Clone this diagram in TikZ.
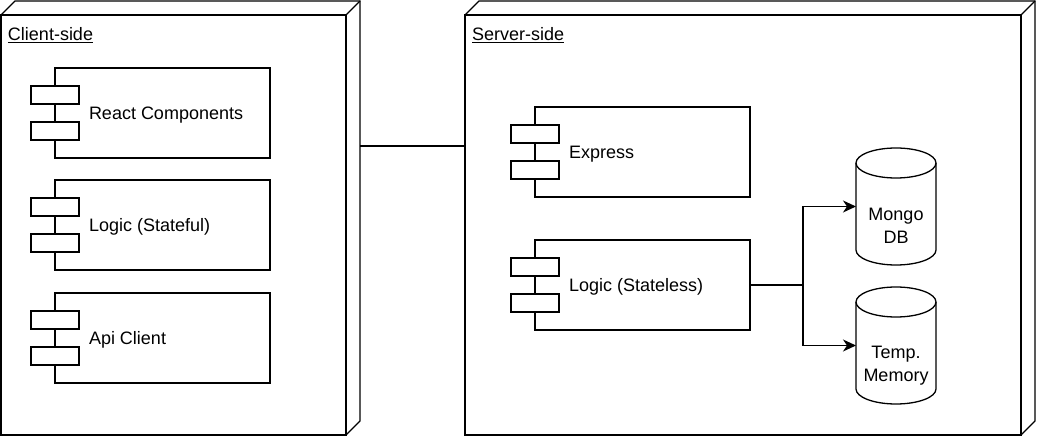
\documentclass[tikz,border=0pt]{standalone}
\usepackage{fontspec}
\setmainfont{Liberation Sans}
\usetikzlibrary{calc,arrows.meta}
\begin{document}
\begin{tikzpicture}[x=1pt,y=1pt,
  every node/.style={inner sep=0pt, outer sep=0pt, font=\fontsize{18}{23}\selectfont},
  lw/.style={line width=1.3pt},
  face/.style={draw, lw, anchor=south west},
  comp/.style={draw, lw, fill=white, minimum width=215, minimum height=90},
  port/.style={draw, lw, fill=white, minimum width=48, minimum height=18},
  lbl/.style={anchor=west, text height=12.9pt, text depth=0pt},
  cyl/.style={minimum width=80, minimum height=117},
  flow/.style={lw, -{Stealth[length=13pt,width=12pt,inset=4pt]}}]
\useasboundingbox (0,0) rectangle (1037,437);
\fill[white] (0,0) rectangle (1037,437);

% client-side node
\node[face, minimum width=345, minimum height=420] (client) at (1,2) {};
\draw[lw] (client.north west) -- ++(14,14) -- ($(client.north east)+(14,14)$) -- ($(client.south east)+(14,14)$) -- (client.south east);
\draw[lw] (client.north east) -- ++(14,14);
\node[anchor=base west] (clientT) at (8,396) {\underline{Client-side}};

% server-side node
\node[face, minimum width=556, minimum height=420] (server) at (465,2) {};
\draw[lw] (server.north west) -- ++(14,14) -- ($(server.north east)+(14,14)$) -- ($(server.south east)+(14,14)$) -- (server.south east);
\draw[lw] (server.north east) -- ++(14,14);
\node[anchor=base west] (serverT) at (472,396) {\underline{Server-side}};

% connection between nodes
\coordinate (cR) at (360,291);
\draw[lw] (cR) -- (cR -| server.west);

% client components
\node[comp] (react) at (162.5,324) {};
\node[port] (reactP1) at ($(react.west)+(0,18)$) {};
\node[port] (reactP2) at ($(react.west)+(0,-18)$) {};
\node[lbl] (reactT) at ($(react.west)+(34,0)$) {React Components};

\node[comp] (stateful) at (162.5,212) {};
\node[port] (statefulP1) at ($(stateful.west)+(0,18)$) {};
\node[port] (statefulP2) at ($(stateful.west)+(0,-18)$) {};
\node[lbl] (statefulT) at ($(stateful.west)+(34,0)$) {Logic (Stateful)};

\node[comp] (api) at (162.5,99) {};
\node[port] (apiP1) at ($(api.west)+(0,18)$) {};
\node[port] (apiP2) at ($(api.west)+(0,-18)$) {};
\node[lbl] (apiT) at ($(api.west)+(34,0)$) {Api Client};

% server components
\node[comp] (express) at (642.5,285) {};
\node[port] (expressP1) at ($(express.west)+(0,18)$) {};
\node[port] (expressP2) at ($(express.west)+(0,-18)$) {};
\node[lbl] (expressT) at ($(express.west)+(34,0)$) {Express};

\node[comp] (logic) at (642.5,152) {};
\node[port] (logicP1) at ($(logic.west)+(0,18)$) {};
\node[port] (logicP2) at ($(logic.west)+(0,-18)$) {};
\node[lbl] (logicT) at ($(logic.west)+(34,0)$) {Logic (Stateless)};

% databases
\node[cyl] (mongo) at (896,230.5) {};
\draw[lw, fill=white] ($(mongo.north west)+(0,-15)$) -- ($(mongo.south west)+(0,15)$)
  arc[start angle=180, end angle=360, x radius=40, y radius=15]
  -- ($(mongo.north east)+(0,-15)$)
  arc[start angle=0, end angle=180, x radius=40, y radius=15] -- cycle;
\draw[lw] ($(mongo.north west)+(0,-15)$) arc[start angle=180, end angle=360, x radius=40, y radius=15];
\node[align=center] (mongoT) at ($(mongo.center)+(0,-19)$) {Mongo\\DB};

\node[cyl] (temp) at (896,91.5) {};
\draw[lw, fill=white] ($(temp.north west)+(0,-15)$) -- ($(temp.south west)+(0,15)$)
  arc[start angle=180, end angle=360, x radius=40, y radius=15]
  -- ($(temp.north east)+(0,-15)$)
  arc[start angle=0, end angle=180, x radius=40, y radius=15] -- cycle;
\draw[lw] ($(temp.north west)+(0,-15)$) arc[start angle=180, end angle=360, x radius=40, y radius=15];
\node[align=center] (tempT) at ($(temp.center)+(0,-20)$) {Temp.\\Memory};

% connectors
\draw[flow] (logic.east) -- ++(53,0) |- (mongo.west);
\draw[flow] (logic.east) -- ++(53,0) |- (temp.west);
\end{tikzpicture}
\end{document}
